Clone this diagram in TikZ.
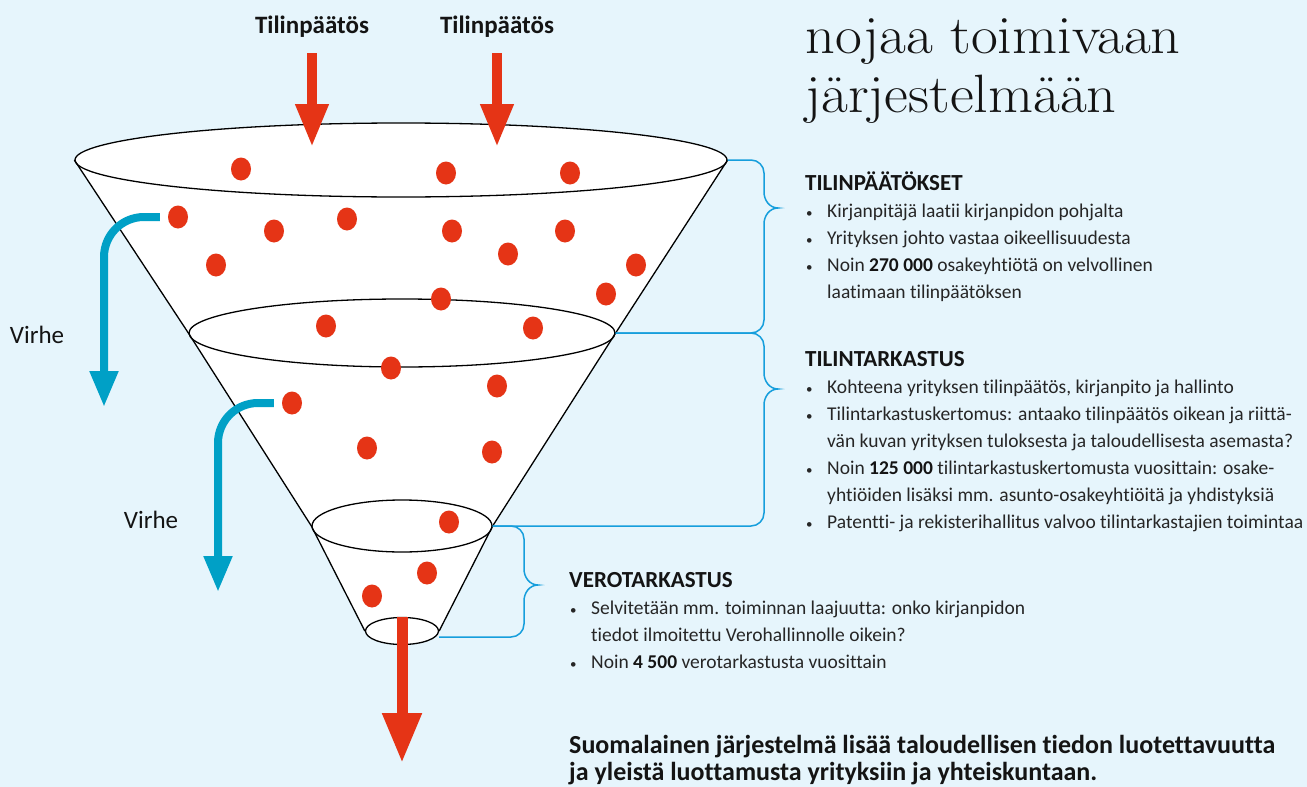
\documentclass[tikz,border=0pt]{standalone}
\usepackage{fontspec}
\usepackage{graphicx}
\setsansfont{Carlito}[Ligatures=CommonOff]
\usetikzlibrary{shapes.geometric,arrows.meta,backgrounds}

\definecolor{paper}{RGB}{230,245,252}
\definecolor{dotred}{RGB}{229,52,22}
\definecolor{errblue}{RGB}{0,160,198}
\definecolor{braceblue}{RGB}{22,158,220}
\definecolor{ink}{RGB}{20,20,20}
\definecolor{bodyink}{RGB}{38,38,38}

\newcommand{\bul}{\makebox[22pt][l]{\hspace{1pt}{\fontsize{13}{13}\selectfont\textbullet}}}
\newcommand{\ind}{\hspace*{22pt}}
\newcommand{\infohead}[1]{{\color{ink}\bfseries\fontsize{23}{27}\selectfont #1}}
\newcommand{\wide}[1]{\scalebox{1.08}[1]{#1}}

\begin{document}
\begin{tikzpicture}[x=1pt,y=-1pt,
  ring/.style={ellipse,draw=black,line width=1.3pt,fill=white,inner sep=0pt},
  cone/.style={draw=black,line width=1.3pt,line join=round},
  dot/.style={ellipse,fill=dotred,minimum width=20pt,minimum height=23pt,inner sep=0pt},
  inarrow/.style={draw=dotred,line width=10pt,-{Triangle[width=31pt,length=43pt]}},
  outarrow/.style={draw=dotred,line width=11pt,-{Triangle[width=37pt,length=50pt]}},
  errarrow/.style={draw=errblue,line width=8pt,rounded corners=40pt,-{Triangle[width=27pt,length=36pt]}},
  brace/.style={draw=braceblue,line width=1.5pt},
  info/.style={anchor=base west,inner sep=0pt,align=left,text=bodyink,
    font=\sffamily\fontsize{19.5}{27}\selectfont},
  flowlabel/.style={anchor=base,inner sep=0pt,text=ink,font=\sffamily\bfseries\fontsize{25}{30}\selectfont},
  errlabel/.style={inner sep=0pt,text=ink,font=\sffamily\fontsize{25}{28}\selectfont}]
  \useasboundingbox (0,0) rectangle (1307,787);
  \begin{scope}[on background layer]
    \fill[paper] (0,0) rectangle (1307,787);
  \end{scope}

  % funnel rings
  \node[ring,minimum width=652pt,minimum height=74pt] (top) at (401,160) {};
  \node[ring,minimum width=426pt,minimum height=68pt] (mid) at (402,333) {};
  \node[ring,minimum width=180pt,minimum height=52pt] (low) at (402,526) {};
  \node[ring,minimum width=73pt,minimum height=27pt] (bot) at (402,631) {};
  \begin{scope}[on background layer]
    \fill[white] (top.west) -- (mid.west) -- (low.west) -- (bot.west)
      -- (bot.east) -- (low.east) -- (mid.east) -- (top.east) -- cycle;
  \end{scope}
  \draw[cone] (top.west) -- (mid.west) -- (low.west) -- (bot.west);
  \draw[cone] (top.east) -- (mid.east) -- (low.east) -- (bot.east);

  % red dots
  \foreach \px/\py [count=\i] in {241/169,446/173,570/173,178/217,274/231,347/219,
      452/231,565/231,216/265,508/254,636/265,606/294,441/299,326/326,533/328,
      391/368,497/386,292/403,367/448,492/452,449/522,427/573,372/596}
    \node[dot] (d\i) at (\px,\py) {};

  % inputs and output
  \node[flowlabel] (fs1) at (312,33) {Tilinpäätös};
  \node[flowlabel] (fs2) at (497,33) {Tilinpäätös};
  \coordinate (in1s) at (312,53);
  \coordinate (in1e) at (312,147);
  \coordinate (in2s) at (497,53);
  \coordinate (in2e) at (497,147);
  \draw[inarrow] (in1s) -- (in1e);
  \draw[inarrow] (in2s) -- (in2e);
  \coordinate (out) at (402,763);
  \draw[outarrow] (bot.north) -- (out);

  % errors
  \coordinate (err1) at (104,407);
  \coordinate (err2) at (218,592);
  \draw[errarrow] ([xshift=-8pt]d4.west) -| (err1);
  \draw[errarrow] ([xshift=-8pt]d18.west) -| (err2);
  \node[errlabel] (v1) at (37,335) {Virhe};
  \node[errlabel] (v2) at (151,520) {Virhe};

  % braces
  \draw[brace] (top.east) -- (751,160) to[out=0,in=90] (764,173) -- (764,192)
    to[out=-90,in=180] (778,208) to[out=180,in=90] (764,224) -- (764,320)
    to[out=-90,in=0] (751,333) -- (mid.east);
  \draw[brace] (mid.east) -- (751,333) to[out=0,in=90] (764,346) -- (764,373)
    to[out=-90,in=180] (778,389) to[out=180,in=90] (764,405) -- (764,513)
    to[out=-90,in=0] (751,526) -- (low.east);
  \draw[brace] (low.east) -- (511,526) to[out=0,in=90] (524,539) -- (524,569)
    to[out=-90,in=180] (538,585) to[out=180,in=90] (524,601) -- (524,624)
    to[out=-90,in=0] (511,637) -- ([yshift=-6pt]bot.east);

  % texts (base = last line)
  \node[anchor=base west,inner sep=0pt,align=left,text=ink,
    font=\rmfamily\fontsize{54}{59}\selectfont] (title) at (805,112)
    {\wide{nojaa toimivaan}\\\wide{järjestelmään}};
  \node[info] (tpinfo) at (805,298)
    {\infohead{TILINPÄÄTÖKSET}\\
     \bul Kirjanpitäjä laatii kirjanpidon pohjalta\\
     \bul Yrityksen johto vastaa oikeellisuudesta\\
     \bul Noin \textbf{\color{ink}270~000} osakeyhtiötä on velvollinen\\
     \ind laatimaan tilinpäätöksen};
  \node[info] (ttinfo) at (805,528)
    {\infohead{TILINTARKASTUS}\\
     \bul Kohteena yrityksen tilinpäätös, kirjanpito ja hallinto\\
     \bul Tilintarkastuskertomus: antaako tilinpäätös oikean ja riittä-\\
     \ind vän kuvan yrityksen tuloksesta ja taloudellisesta asemasta?\\
     \bul Noin \textbf{\color{ink}125~000} tilintarkastuskertomusta vuosittain: osake-\\
     \ind yhtiöiden lisäksi mm. asunto-osakeyhtiöitä ja yhdistyksiä\\
     \bul Patentti- ja rekisterihallitus valvoo tilintarkastajien toimintaa};
  \node[info] (vtinfo) at (569,668)
    {\infohead{VEROTARKASTUS}\\
     \bul Selvitetään mm. toiminnan laajuutta: onko kirjanpidon\\
     \ind tiedot ilmoitettu Verohallinnolle oikein?\\
     \bul Noin \textbf{\color{ink}4~500} verotarkastusta vuosittain};
  \node[anchor=base west,inner sep=0pt,align=left,text=ink,
    font=\sffamily\bfseries\fontsize{26}{27}\selectfont] (summary) at (569,780)
    {Suomalainen järjestelmä lisää taloudellisen tiedon luotettavuutta\\
     ja yleistä luottamusta yrityksiin ja yhteiskuntaan.};
\end{tikzpicture}
\end{document}
